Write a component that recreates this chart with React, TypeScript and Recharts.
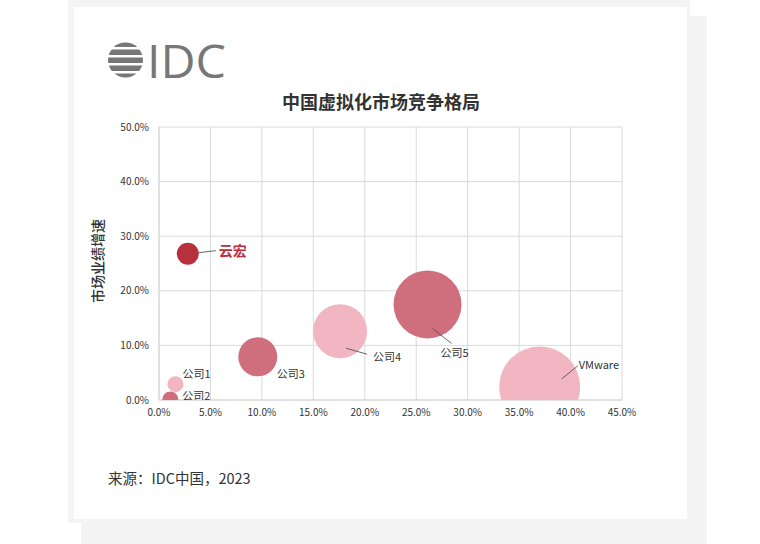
import React from "react";
import { ScatterChart, Scatter, XAxis, YAxis, ZAxis, CartesianGrid, Cell } from "recharts";

// ---- data ----
const companies = ["云宏", "公司1", "公司2", "公司3", "公司4", "公司5", "VMware"];
const marketShare = [2.8, 1.6, 1.1, 9.6, 17.6, 26.1, 37.0]; // x, %
const growthRate = [26.8, 2.9, 0.1, 7.9, 12.6, 17.5, 2.4]; // y, %
const bubbleSize = [121, 64, 64, 380, 729, 1156, 1640]; // z
const xTicks = [0, 5, 10, 15, 20, 25, 30, 35, 40, 45];
const yTicks = [0, 10, 20, 30, 40, 50];

// ---- styles ----
const COLORS = ["#b9303d", "#f1b6c2", "#cf6f7e", "#cf6f7e", "#f1b6c2", "#cf6f7e", "#f1b6c2"];
const FONT = "'Noto Sans CJK SC', 'Noto Sans', sans-serif";

// label layout relative to bubble centre: [lineFrom, lineTo] | null, text anchor point
const LABEL_LAYOUT: Record<string, { line: number[] | null; tx: number; ty: number }> = {
  "云宏": { line: [11, -1, 28, -3], tx: 31, ty: -4 },
  "公司1": { line: null, tx: 7, ty: -11 },
  "公司2": { line: null, tx: 12, ty: -4 },
  "公司3": { line: null, tx: 19, ty: 16 },
  "公司4": { line: [6, 17, 27, 23], tx: 33, ty: 25 },
  "公司5": { line: [5, 24, 24, 39], tx: 13, ty: 48 },
  VMware: { line: [22, -8, 38, -21], tx: 39, ty: -23 },
};

const data = companies.map((name, i) => ({
  name,
  x: marketShare[i],
  y: growthRate[i],
  z: bubbleSize[i],
}));

const fmt = (v: number) => `${v.toFixed(1)}%`;

const BubbleShape = (props: any) => {
  const { cx, cy, fill, payload, width, size } = props;
  const r = width ? width / 2 : Math.sqrt((size || 64) / Math.PI);
  const lay = LABEL_LAYOUT[payload.name];
  const isMain = payload.name === "云宏";
  return (
    <g>
      <circle cx={cx} cy={cy} r={r} fill={fill} />
      {lay && lay.line && (
        <line
          x1={cx + lay.line[0]}
          y1={cy + lay.line[1]}
          x2={cx + lay.line[2]}
          y2={cy + lay.line[3]}
          stroke="#555"
          strokeWidth={0.9}
        />
      )}
      {lay && (
        <text
          x={cx + lay.tx}
          y={cy + lay.ty}
          dominantBaseline="central"
          fontFamily={FONT}
          fontSize={isMain ? 14 : 11}
          fontWeight={isMain ? 700 : 400}
          fill={isMain ? "#b9303d" : "#333"}
        >
          {payload.name}
        </text>
      )}
    </g>
  );
};

export default function App() {
  return (
    <div style={{ position: "absolute", left: 0, top: 0, width: 760, height: 544, background: "#fff", overflow: "hidden" }}>
      <div style={{ position: "absolute", left: 68, top: 0, width: 622, height: 523, background: "#f4f4f4" }} />
      <div style={{ position: "absolute", left: 81, top: 16, width: 626, height: 528, background: "#f4f4f4" }} />
      <div style={{ position: "absolute", left: 74, top: 7, width: 613, height: 512, background: "#fff" }} />

      {/* IDC logo */}
      <svg style={{ position: "absolute", left: 0, top: 0 }} width={760} height={120}>
        <defs>
          <clipPath id="idcStripes">
            <rect x={100} y={42} width={50} height={5} />
            <rect x={100} y={49.5} width={50} height={5.5} />
            <rect x={100} y={57.5} width={50} height={5.5} />
            <rect x={100} y={65.5} width={50} height={5.5} />
            <rect x={100} y={73.5} width={50} height={5} />
          </clipPath>
        </defs>
        <circle cx={125.5} cy={60} r={17.5} fill="#777" clipPath="url(#idcStripes)" />
        <text
          x={147}
          y={78}
          fontFamily="'Open Sans', 'Liberation Sans', sans-serif"
          fontWeight={400}
          fontSize={46}
          fill="#777"
          textLength={79}
          lengthAdjust="spacingAndGlyphs"
        >
          IDC
        </text>
      </svg>

      <div
        style={{
          position: "absolute",
          left: 0,
          width: 762,
          top: 89,
          textAlign: "center",
          fontFamily: FONT,
          fontWeight: 700,
          fontSize: 18,
          color: "#333",
          lineHeight: "24px",
        }}
      >
        中国虚拟化市场竞争格局
      </div>

      <div
        style={{
          position: "absolute",
          left: 97,
          top: 261,
          transform: "translate(-50%, -50%) rotate(-90deg)",
          whiteSpace: "nowrap",
          fontFamily: FONT,
          fontWeight: 500,
          fontSize: 14,
          color: "#333",
          lineHeight: "16px",
        }}
      >
        市场业绩增速
      </div>

      <div
        style={{
          position: "absolute",
          left: 108,
          top: 468,
          fontFamily: FONT,
          fontSize: 14.5,
          color: "#333",
          lineHeight: "20px",
        }}
      >
        来源：IDC中国，2023
      </div>

      <div style={{ position: "absolute", left: 0, top: 0 }}>
        <ScatterChart width={760} height={544} margin={{ top: 127, right: 138, bottom: 114, left: 99 }}>
          <CartesianGrid stroke="#dadada" strokeWidth={1} />
          <XAxis
            type="number"
            dataKey="x"
            domain={[0, 45]}
            ticks={xTicks}
            tickFormatter={fmt}
            allowDataOverflow
            height={30}
            tickSize={0}
            tickMargin={9}
            axisLine={{ stroke: "#d4d4d4" }}
            tick={{ fontSize: 10, fill: "#333", fontFamily: FONT }}
          />
          <YAxis
            type="number"
            dataKey="y"
            domain={[0, 50]}
            ticks={yTicks}
            tickFormatter={fmt}
            allowDataOverflow
            width={60}
            tickSize={0}
            tickMargin={10}
            axisLine={{ stroke: "#d4d4d4" }}
            tick={{ fontSize: 10, fill: "#333", fontFamily: FONT }}
          />
          <ZAxis type="number" dataKey="z" domain={[0, 1640]} range={[0, 1640 * Math.PI]} />
          <Scatter data={data} isAnimationActive={false} shape={BubbleShape}>
            {data.map((d, i) => (
              <Cell key={d.name} fill={COLORS[i]} />
            ))}
          </Scatter>
        </ScatterChart>
      </div>
    </div>
  );
}
